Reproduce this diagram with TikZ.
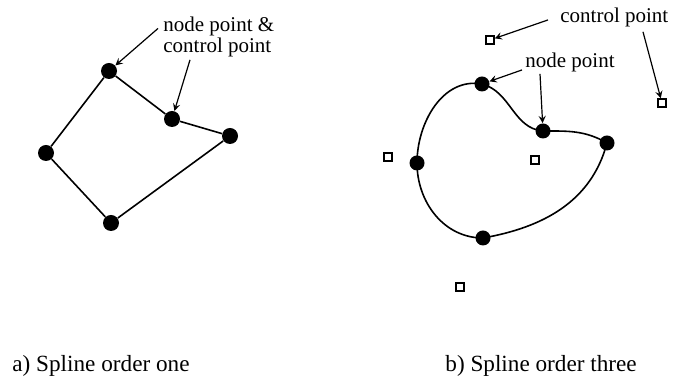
\documentclass[tikz,border=0pt]{standalone}
\usepackage{fontspec}
\setmainfont{Liberation Serif}
\begin{document}
\begin{tikzpicture}[x=0.5pt,y=0.5pt,
		knot/.style={circle, fill=black, inner sep=0pt, minimum size=\dotsize},
		ctrl/.style={rectangle, draw=black, fill=white, line width=0.7pt, inner sep=0pt, minimum size=\boxsize},
		edge/.style={line width=0.8pt},
		pointer/.style={-stealth, line width=0.6pt},
		lbl/.style={font=\fontsize{10.5}{10.5}\selectfont, inner sep=0pt, align=left},
		caption/.style={font=\fontsize{11.6}{13}\selectfont, inner sep=0pt}]
			
			\def \dotsize{8pt}
			\def \boxsize{4pt}
			
			\useasboundingbox (0,0) rectangle (673,378);
			
			% ORDER ONE
			\node[knot] (a1) at (109,307) {};
			\node[knot] (a2) at (172,259) {};
			\node[knot] (a3) at (230,242) {};
			\node[knot] (a4) at (111,155) {};
			\node[knot] (a5) at (46,225) {};
			\draw[edge] (a1) -- (a2) -- (a3) -- (a4) -- (a5) -- (a1);
			
			\node[lbl,anchor=base west] (lblnc) at (163,325) {node point \&\\control point};
			\draw[pointer] ([shift={(-5,9)}]lblnc.west) -- (a1);
			\draw[pointer] ([shift={(27,-2)}]lblnc.south west) -- (a2);
			
			\node[caption,anchor=base west] (capa) at (12,6) {a) Spline order one};
			
			% ORDER THREE
			\node[knot,minimum size=7.5pt] (b1) at (482,294) {};
			\node[knot,minimum size=7.5pt] (b2) at (543,247) {};
			\node[knot,minimum size=7.5pt] (b3) at (607,235) {};
			\node[knot,minimum size=7.5pt] (b4) at (483,140) {};
			\node[knot,minimum size=7.5pt] (b5) at (417,215) {};
			\draw[edge] (b1.center) to[out=-15,in=175] (b2.center)
				to[out=0,in=150] (b3.center)
				to[out=-105,in=10] (b4.center)
				to[out=180,in=-90] (b5.center)
				to[out=90,in=170] (b1.center);
			
			\node[ctrl] (c1) at (490,338) {};
			\node[ctrl] (c2) at (662,275) {};
			\node[ctrl] (c3) at (388,221) {};
			\node[ctrl] (c4) at (535,218) {};
			\node[ctrl] (c5) at (460,91) {};
			
			\node[lbl,anchor=base west] (lblc) at (560,355) {control point};
			\draw[pointer] ([shift={(-12,-2)}]lblc.west) -- (c1);
			\draw[pointer] ([shift={(83,-4)}]lblc.south west) -- (c2);
			
			\node[lbl,anchor=base west] (lbln) at (525,310) {node point};
			\draw[pointer] ([shift={(-3,-7)}]lbln.west) -- (b1);
			\draw[pointer] ([shift={(15,-1)}]lbln.south west) -- (b2);
			
			\node[caption,anchor=base west] (capb) at (445,6) {b) Spline order three};
			
		\end{tikzpicture}
\end{document}
